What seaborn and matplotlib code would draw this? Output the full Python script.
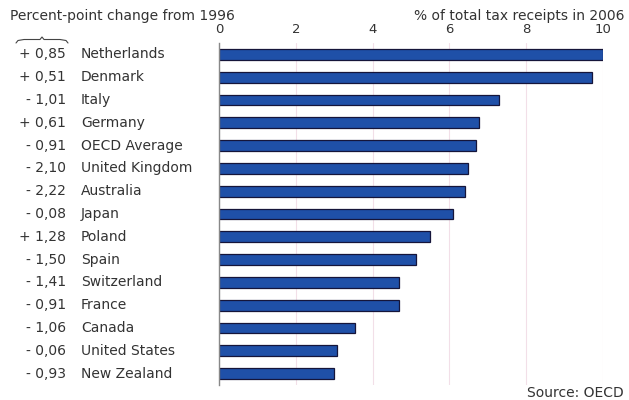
import numpy as np
import pandas as pd
import matplotlib
matplotlib.use("Agg")
import matplotlib.pyplot as plt
import matplotlib.transforms as mtransforms
from matplotlib.lines import Line2D
import seaborn as sns

countries = ["Netherlands", "Denmark", "Italy", "Germany", "OECD Average",
             "United Kingdom", "Australia", "Japan", "Poland", "Spain",
             "Switzerland", "France", "Canada", "United States", "New Zealand"]
share_2006 = [10.0, 9.71, 7.29, 6.77, 6.68, 6.48, 6.41, 6.10, 5.49, 5.13,
              4.69, 4.69, 3.54, 3.07, 3.00]
change_1996 = [0.85, 0.51, -1.01, 0.61, -0.91, -2.10, -2.22, -0.08, 1.28, -1.50,
               -1.41, -0.91, -1.06, -0.06, -0.93]
xticks = [0, 2, 4, 6, 8, 10]

df = pd.DataFrame({"country": countries, "share": share_2006, "change": change_1996})

sns.set_style("white")
plt.rcParams["font.family"] = ["DejaVu Sans"]
txt = "#333333"
fs = 10

fig = plt.figure(figsize=(6.29, 4.0), dpi=100)
ax = fig.add_axes([219 / 629, 15 / 400, (603 - 219) / 629, (385 - 43) / 400])

sns.barplot(data=df, y="country", x="share", orient="h", color="#1f50a8",
            saturation=1, width=0.47, edgecolor="#15153a", linewidth=0.9, ax=ax)

ax.set_xlim(0, 10)
ax.set_ylim(len(countries) - 0.5, -0.5)
ax.set_xticks(xticks)
ax.xaxis.tick_top()
ax.tick_params(axis="x", length=0, pad=5, labelsize=9.5, labelcolor=txt)
ax.set_xlabel("")
ax.set_ylabel("")
ax.set_yticks([])
ax.set_yticks(np.arange(len(countries) - 1) + 0.5, minor=True)
ax.tick_params(axis="y", which="minor", direction="out", length=4, color="#999999")
ax.grid(axis="x", color="#f2dfe8", linewidth=0.8)
ax.set_axisbelow(True)
for s in ["top", "right", "bottom"]:
    ax.spines[s].set_visible(False)
ax.spines["left"].set_color("#888888")
ax.spines["left"].set_linewidth(1.0)

trans = mtransforms.blended_transform_factory(fig.transFigure, ax.transData)
for i, (name, ch) in enumerate(zip(countries, change_1996)):
    sign = "+" if ch >= 0 else "-"
    label = f"{sign} {abs(ch):.2f}".replace(".", ",")
    ax.text(66 / 629, i, label, transform=trans, ha="right", va="center",
            fontsize=fs, color=txt)
    ax.text(81 / 629, i, name, transform=trans, ha="left", va="center",
            fontsize=fs, color=txt)

fig.text(10 / 629, 1 - 16 / 400, "Percent-point change from 1996", ha="left",
         va="center", fontsize=fs, color=txt)
fig.text(624 / 629, 1 - 16 / 400, "% of total tax receipts in 2006", ha="right",
         va="center", fontsize=fs, color=txt)
fig.text(624 / 629, 1 - 393 / 400, "Source: OECD", ha="right", va="center",
         fontsize=fs, color=txt)

# brace under the change header
bx = np.array([16, 18, 24, 40, 42, 44, 60, 66, 68]) / 629
by = 1 - np.array([43, 40.5, 39.5, 39.5, 37, 39.5, 39.5, 40.5, 43]) / 400
fig.add_artist(Line2D(bx, by, transform=fig.transFigure, color="#444444", linewidth=0.8))

fig.savefig("out.png", dpi=100)
